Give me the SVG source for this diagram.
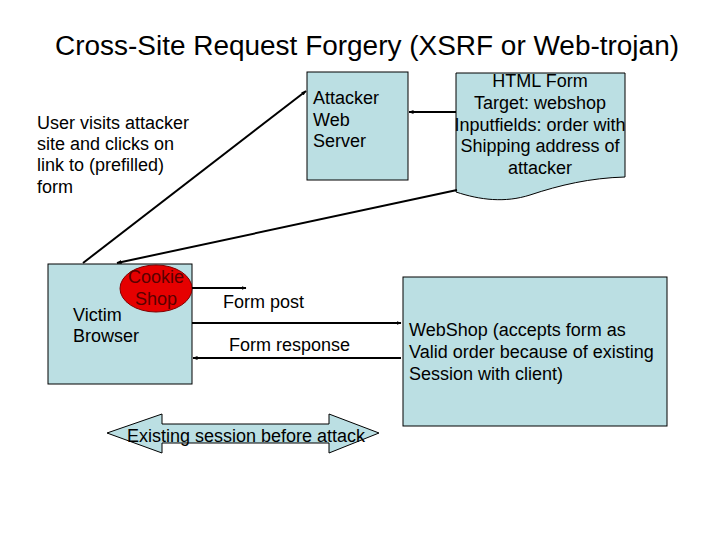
<svg xmlns="http://www.w3.org/2000/svg" width="720" height="540" viewBox="0 0 720 540">
<defs>
<style>
text{font-family:"Liberation Sans",Arial,sans-serif;fill:#000}
.t{font-size:18px}
.box{fill:#bbdfe3;stroke:#000;stroke-width:1}
.ln{stroke:#000;stroke-width:2;fill:none}
.ck{fill:#5a0000}
</style>
<marker id="ah" viewBox="0 0 10 10" refX="9" refY="5" markerWidth="5" markerHeight="5" orient="auto" markerUnits="userSpaceOnUse">
<path d="M0,1 L10,5 L0,9 z" fill="#000"/>
</marker>
</defs>
<rect width="720" height="540" fill="#fff"/>
<text x="367" y="55" font-size="27" text-anchor="middle" textLength="624" lengthAdjust="spacingAndGlyphs">Cross-Site Request Forgery (XSRF or Web-trojan)</text>

<g id="user-note">
<text class="t" x="37" y="129">User visits attacker</text>
<text class="t" x="37" y="150">site and clicks on</text>
<text class="t" x="37" y="171">link to (prefilled)</text>
<text class="t" x="37" y="193">form</text>
</g>

<g id="attacker">
<rect class="box" x="307" y="72" width="101" height="108"/>
<text class="t" x="313" y="104">Attacker</text>
<text class="t" x="313" y="126">Web</text>
<text class="t" x="313" y="147">Server</text>
</g>

<g id="htmlform">
<path class="box" d="M456,73 H625 V177 C590,178 560,185 530,195 C505,203 480,200 456,192 Z"/>
<g text-anchor="middle">
<text class="t" x="540" y="87">HTML Form</text>
<text class="t" x="540" y="109">Target: webshop</text>
<text class="t" x="540" y="131">Inputfields: order with</text>
<text class="t" x="540" y="152">Shipping address of</text>
<text class="t" x="540" y="174">attacker</text>
</g>
</g>

<g id="victim">
<rect class="box" x="48" y="264" width="144" height="120"/>
<ellipse cx="156" cy="288.5" rx="36" ry="23.5" fill="#e60000" stroke="#800000" stroke-width="1"/>
<text class="t ck" x="156" y="283" text-anchor="middle">Cookie</text>
<text class="t ck" x="156" y="305" text-anchor="middle">Shop</text>
<text class="t" x="73" y="321">Victim</text>
<text class="t" x="73" y="342">Browser</text>
</g>

<g id="webshop">
<rect class="box" x="403" y="277" width="264" height="149"/>
<text class="t" x="409" y="336">WebShop (accepts form as</text>
<text class="t" x="409" y="358">Valid order because of existing</text>
<text class="t" x="409" y="380">Session with client)</text>
</g>

<g id="session">
<path d="M107,433 L162,414 V424 H329 V414 L379,433 L329,453 V443 H162 V453 Z" fill="#bbdfe3" stroke="#000" stroke-width="1"/>
<text class="t" x="246" y="442" text-anchor="middle">Existing session before attack</text>
</g>

<g id="connectors">
<line class="ln" x1="83" y1="263" x2="306" y2="91" marker-end="url(#ah)"/>
<line class="ln" x1="456" y1="112" x2="409" y2="112" marker-end="url(#ah)"/>
<line class="ln" x1="457" y1="190" x2="117" y2="263" marker-end="url(#ah)"/>
<line class="ln" x1="192" y1="288" x2="246" y2="288" marker-end="url(#ah)"/>
<line class="ln" x1="192" y1="323" x2="401" y2="323" marker-end="url(#ah)"/>
<line class="ln" x1="401" y1="358" x2="193" y2="358" marker-end="url(#ah)"/>
</g>
<g id="labels">
<text class="t" x="223" y="308">Form post</text>
<text class="t" x="229" y="351">Form response</text>
</g>
</svg>
